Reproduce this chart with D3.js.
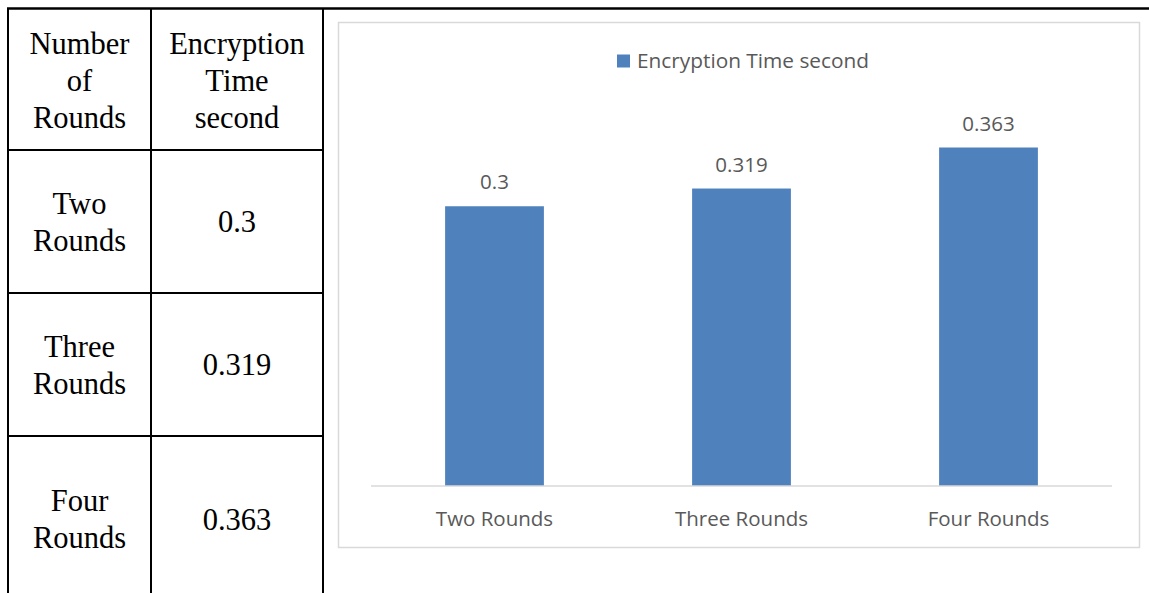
<!DOCTYPE html>
<html>
<head>
<meta charset="utf-8">
<script src="https://cdn.jsdelivr.net/npm/d3@7"></script>
<style>
  body { margin: 0; background: #fff; }
  svg { display: block; }
  .cell-text { font-family: "Liberation Serif", "Times New Roman", serif; font-size: 30.5px; fill: #000; }
  .chart-text { font-family: "Open Sans", "Noto Sans", sans-serif; font-size: 20.5px; fill: #595959; }
</style>
</head>
<body>
<svg id="page" width="1149" height="593"></svg>
<script>
// data
const categories = ['Two Rounds', 'Three Rounds', 'Four Rounds'];
const times = [0.3, 0.319, 0.363];
const seriesName = 'Encryption Time second';
const headerLines = [['Number', 'of', 'Rounds'], ['Encryption', 'Time', 'second']];
const rowLabels = [['Two', 'Rounds'], ['Three', 'Rounds'], ['Four', 'Rounds']];
const rowValues = ['0.3', '0.319', '0.363'];

const svg = d3.select('#page');

// ---- table on the left ----
const colX = [8, 151, 323];
const rowY = [150, 293, 436, 602];
const lineH = 37;

svg.append('line').attr('x1', 7).attr('x2', 1149).attr('y1', 8.5).attr('y2', 8.5)
   .attr('stroke', '#000').attr('stroke-width', 2.5);
colX.forEach(x => {
  svg.append('line').attr('x1', x).attr('x2', x).attr('y1', 8).attr('y2', 593)
     .attr('stroke', '#000').attr('stroke-width', 2);
});
rowY.slice(0, 3).forEach(y => {
  svg.append('line').attr('x1', 8).attr('x2', 323).attr('y1', y).attr('y2', y)
     .attr('stroke', '#000').attr('stroke-width', 2);
});

const writeCell = (lines, cx, cy) => {
  const t = svg.append('text').attr('class', 'cell-text').attr('text-anchor', 'middle');
  const top = cy - (lines.length - 1) * lineH / 2;
  lines.forEach((s, i) => {
    t.append('tspan').attr('x', cx).attr('y', top + i * lineH).attr('dy', '0.35em').text(s);
  });
};
writeCell(headerLines[0], (colX[0] + colX[1]) / 2, 80);
writeCell(headerLines[1], (colX[1] + colX[2]) / 2, 80);
rowLabels.forEach((lines, i) => {
  const cy = (rowY[i] + rowY[i + 1]) / 2;
  writeCell(lines, (colX[0] + colX[1]) / 2, cy);
  writeCell([rowValues[i]], (colX[1] + colX[2]) / 2, cy);
});

// ---- chart on the right ----
svg.append('rect').attr('x', 338.5).attr('y', 22.5).attr('width', 801).attr('height', 525)
   .attr('fill', '#fff').attr('stroke', '#d9d9d9').attr('stroke-width', 1.5);

const x = d3.scaleBand().domain(categories).range([371, 1112]).paddingInner(0.6).paddingOuter(0.3);
const y = d3.scaleLinear().domain([0, 0.4]).range([486, 113]);

svg.selectAll('rect.bar').data(times).enter().append('rect').attr('class', 'bar')
   .attr('x', (d, i) => x(categories[i]))
   .attr('y', d => y(d))
   .attr('width', x.bandwidth())
   .attr('height', d => y(0) - y(d))
   .attr('fill', '#4f81bd');

svg.selectAll('text.val').data(times).enter().append('text').attr('class', 'chart-text val')
   .attr('text-anchor', 'middle')
   .attr('x', (d, i) => x(categories[i]) + x.bandwidth() / 2)
   .attr('y', d => y(d) - 24).attr('dy', '0.35em')
   .text(d => d);

// x axis
const xAxis = svg.append('g').attr('transform', 'translate(0,486)')
   .call(d3.axisBottom(x).tickSize(0).tickPadding(25));
xAxis.select('.domain').attr('stroke', '#d9d9d9').attr('stroke-width', 1.5).attr('d', 'M371,0H1112');
xAxis.selectAll('.tick text').attr('class', 'chart-text').attr('font-family', null).attr('font-size', null).attr('fill', null);

// legend
const leg = svg.append('g').attr('transform', 'translate(617,61)');
leg.append('rect').attr('x', 0).attr('y', -6.5).attr('width', 13).attr('height', 13).attr('fill', '#4f81bd');
leg.append('text').attr('class', 'chart-text').attr('x', 20).attr('dy', '0.35em')
   .attr('textLength', 232).attr('lengthAdjust', 'spacingAndGlyphs').text(seriesName);
</script>
</body>
</html>
